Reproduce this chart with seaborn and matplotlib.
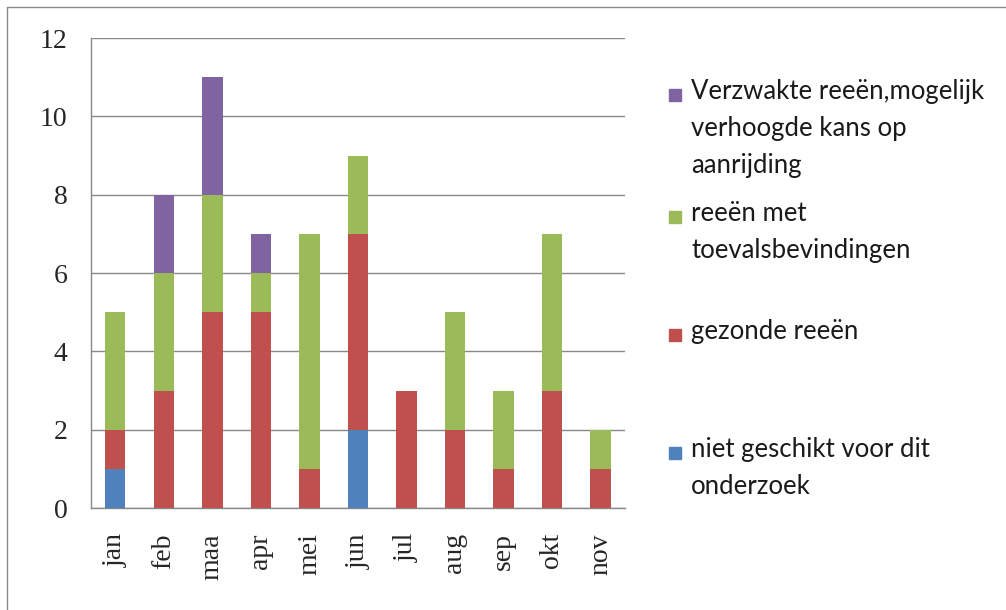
import numpy as np
import pandas as pd
import matplotlib
matplotlib.use("Agg")
import matplotlib.pyplot as plt
from matplotlib.patches import Rectangle
from matplotlib.lines import Line2D
import seaborn as sns

# data
months = ['jan', 'feb', 'maa', 'apr', 'mei', 'jun', 'jul', 'aug', 'sep', 'okt', 'nov']
niet_geschikt = [1, 0, 0, 0, 0, 2, 0, 0, 0, 0, 0]
gezond = [1, 3, 5, 5, 1, 5, 3, 2, 1, 3, 1]
toevals = [3, 3, 3, 1, 6, 2, 0, 3, 2, 4, 1]
verzwakt = [0, 2, 3, 1, 0, 0, 0, 0, 0, 0, 0]

labels = ['niet geschikt voor dit\nonderzoek',
          'gezonde reeën',
          'reeën met\ntoevalsbevindingen',
          'Verzwakte reeën,mogelijk\nverhoogde kans op\naanrijding']
colors = ['#4F81BD', '#C0504D', '#9BBB59', '#8064A2']

df = pd.DataFrame({'maand': months,
                   'niet': niet_geschikt,
                   'gezond': gezond,
                   'toevals': toevals,
                   'verzwakt': verzwakt})
series = ['niet', 'gezond', 'toevals', 'verzwakt']
cum = df[series].cumsum(axis=1)

sns.set_style("white")
fig = plt.figure(figsize=(10.06, 6.10), dpi=100)
ax = fig.add_axes([0.0905, 0.1672, 0.5305, 0.7705])

# stacked bars: draw cumulative totals, biggest first
for s, c in reversed(list(zip(series, colors))):
    sns.barplot(x=df['maand'], y=cum[s], color=c, width=0.42,
                saturation=1, ax=ax, zorder=3, linewidth=0)

ax.set_ylim(0, 12)
ax.set_xlim(-0.5, len(months) - 0.5)
ax.set_yticks(range(0, 13, 2))
ax.yaxis.grid(True, color='#888888', linewidth=1.0, zorder=0)
ax.set_axisbelow(True)
ax.set_xlabel('')
ax.set_ylabel('')

for side in ['top', 'right']:
    ax.spines[side].set_visible(False)
for side in ['left', 'bottom']:
    ax.spines[side].set_color('#888888')
    ax.spines[side].set_linewidth(1.0)

serif = ['Liberation Serif', 'DejaVu Serif']
ax.set_xticks(range(len(months)))
ax.set_xticklabels(months, rotation=90, fontsize=20, family=serif)
ax.tick_params(axis='x', length=0, pad=18)
ax.set_xticks(np.arange(-0.5, len(months)), minor=True)
ax.tick_params(axis='x', which='minor', length=6, color='#888888', width=1)
ax.tick_params(axis='y', length=7, color='#888888', width=1, pad=10)
for t in ax.get_yticklabels():
    t.set_fontsize(20)
    t.set_family(serif)

# legend, drawn as in the original (marker at first line)
leg_font = ['Lato', 'DejaVu Sans']
leg_y = [453, 335, 217, 95]  # pixel centers of first lines
for lab, c, yp in zip(labels, colors, leg_y):
    yf = 1 - yp / 610
    fig.patches.append(Rectangle((669 / 1006, yf - 6 / 610), 12 / 1006, 12 / 610,
                                 transform=fig.transFigure, color=c,
                                 figure=fig))
    fig.text(691 / 1006, yf + 16 / 610, lab, fontsize=18.5, family=leg_font,
             color='#1a1a1a', va='top', ha='left', linespacing=1.6)

# outer frame (left and top only visible)
fig.lines.append(Line2D([7 / 1006, 7 / 1006], [0, 1 - 7 / 610],
                        transform=fig.transFigure, color='#888888', lw=1))
fig.lines.append(Line2D([7 / 1006, 1], [1 - 7 / 610, 1 - 7 / 610],
                        transform=fig.transFigure, color='#888888', lw=1))

fig.savefig('out.png', dpi=100)
